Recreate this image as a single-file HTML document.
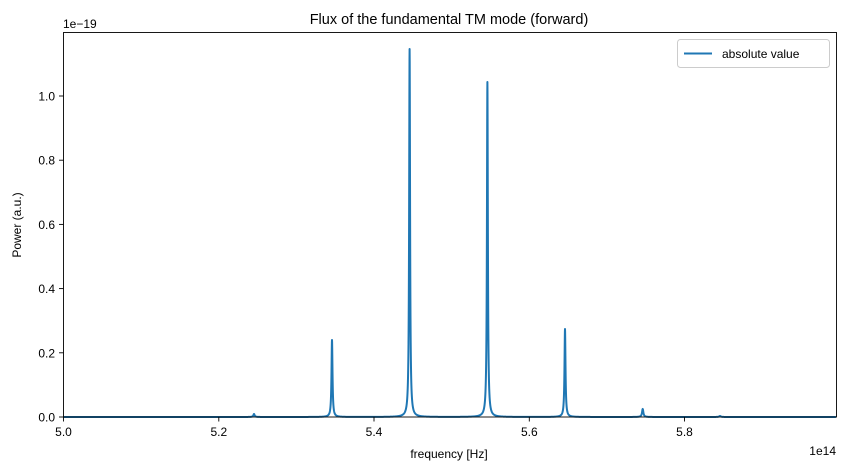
<!DOCTYPE html>
<html><head><meta charset="utf-8"><style>
body{margin:0;background:#fff;}
svg{display:block;font-family:"Liberation Sans","DejaVu Sans",sans-serif;}
</style></head><body>
<svg id="s" width="846" height="470" xmlns="http://www.w3.org/2000/svg">
<rect width="846" height="470" fill="#fff"/>
<text x="449" y="24" font-size="14.5" text-anchor="middle" fill="#000">Flux of the fundamental TM mode (forward)</text>
<path id="line" fill="none" stroke="#1f77b4" stroke-width="2" stroke-linejoin="round"/>
<rect x="63.5" y="32.5" width="773" height="384.5" fill="none" stroke="#000" stroke-width="0.9"/>
<g font-size="12" fill="#000" text-anchor="end">
<g stroke="#000" stroke-width="0.9">
<line x1="59" x2="63.5" y1="417" y2="417"/><line x1="59" x2="63.5" y1="352.8" y2="352.8"/>
<line x1="59" x2="63.5" y1="288.6" y2="288.6"/><line x1="59" x2="63.5" y1="224.4" y2="224.4"/>
<line x1="59" x2="63.5" y1="160.2" y2="160.2"/><line x1="59" x2="63.5" y1="96" y2="96"/>
</g>
<text x="55" y="421.5">0.0</text><text x="55" y="357.3">0.2</text><text x="55" y="293.1">0.4</text>
<text x="55" y="228.9">0.6</text><text x="55" y="164.7">0.8</text><text x="55" y="100.5">1.0</text>
</g>
<text x="63" y="28" font-size="12">1e−19</text>
<text transform="translate(21,225) rotate(-90)" font-size="12" text-anchor="middle">Power (a.u.)</text>
<g font-size="12" fill="#000" text-anchor="middle">
<g stroke="#000" stroke-width="0.9">
<line x1="63.5" x2="63.5" y1="417" y2="421.5"/><line x1="218.8" x2="218.8" y1="417" y2="421.5"/>
<line x1="374" x2="374" y1="417" y2="421.5"/><line x1="529.3" x2="529.3" y1="417" y2="421.5"/>
<line x1="684.5" x2="684.5" y1="417" y2="421.5"/>
</g>
<text x="63.5" y="436">5.0</text><text x="218.8" y="436">5.2</text><text x="374" y="436">5.4</text>
<text x="529.3" y="436">5.6</text><text x="684.5" y="436">5.8</text>
<text x="449" y="458">frequency [Hz]</text>
</g>
<text x="836" y="455" font-size="12" text-anchor="end">1e14</text>
<rect x="677.5" y="39.5" width="152" height="28" rx="3" fill="#fff" stroke="#ccc" stroke-width="1"/>
<line x1="684" x2="712" y1="53.5" y2="53.5" stroke="#1f77b4" stroke-width="2"/>
<text x="722" y="58" font-size="12">absolute value</text>
</svg>
<script>
var peaks=[[254,3,0.8],[332,77,0.6],[409.6,368,0.55],[487.4,335,0.55],[565,88,0.6],[642.7,8,0.8],[720,1,1]];
var d="";
for(var x=63.5;x<=836;x+=0.1){
 var v=0;
 for(var i=0;i<peaks.length;i++){var p=peaks[i],u=(x-p[0])/p[2];v+=p[1]/(1+u*u);}
 d+=(d?"L":"M")+x.toFixed(1)+","+(417-v).toFixed(2);
}
document.getElementById("line").setAttribute("d",d);
</script>
</body></html>
